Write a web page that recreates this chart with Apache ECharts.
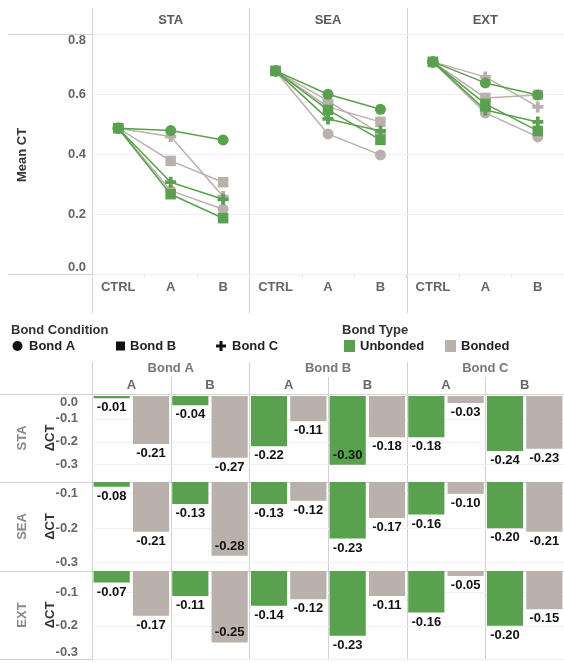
<!DOCTYPE html>
<html><head><meta charset="utf-8">
<script src="https://cdn.jsdelivr.net/npm/echarts@6/dist/echarts.min.js"></script>
<style>html,body{margin:0;padding:0;background:#fff}#c{width:564px;height:663px}</style>
</head><body><div id="c"></div>
<script>
// ---------- data ----------
const panels = ['STA', 'SEA', 'EXT'];
const stages = ['CTRL', 'A', 'B'];
const bondConditions = ['Bond A', 'Bond B', 'Bond C'];
const bondTypes = ['Unbonded', 'Bonded'];
const meanTicks = [0, 0.2, 0.4, 0.6, 0.8];
// Mean CT per panel; rows: BondA-Unb, BondA-Bon, BondB-Unb, BondB-Bon, BondC-Unb, BondC-Bon; cols: CTRL, A, B
const meanSTA = [[0.486, 0.478, 0.447], [0.486, 0.278, 0.216], [0.486, 0.266, 0.186], [0.486, 0.377, 0.306], [0.486, 0.306, 0.249], [0.486, 0.458, 0.258]];
const meanSEA = [[0.677, 0.599, 0.549], [0.677, 0.467, 0.397], [0.677, 0.547, 0.447], [0.677, 0.557, 0.507], [0.677, 0.517, 0.477], [0.677, 0.577, 0.467]];
const meanEXT = [[0.707, 0.637, 0.597], [0.707, 0.537, 0.457], [0.707, 0.567, 0.477], [0.707, 0.587, 0.597], [0.707, 0.547, 0.507], [0.707, 0.657, 0.557]];
// ΔCT per row; order: BondA/A Unb, BondA/A Bon, BondA/B Unb, BondA/B Bon, BondB/A Unb, ... BondC/B Bon
const deltaSTA = [-0.01, -0.21, -0.04, -0.27, -0.22, -0.11, -0.30, -0.18, -0.18, -0.03, -0.24, -0.23];
const deltaSEA = [-0.08, -0.21, -0.13, -0.28, -0.13, -0.12, -0.23, -0.17, -0.16, -0.10, -0.20, -0.21];
const deltaEXT = [-0.07, -0.17, -0.11, -0.25, -0.14, -0.12, -0.23, -0.11, -0.16, -0.05, -0.20, -0.15];
const deltaTicks = [[-0.3, -0.2, -0.1, 0], [-0.3, -0.2, -0.1], [-0.3, -0.2, -0.1]];
const deltaRange = [[-0.376, 0.009], [-0.324, -0.066], [-0.300, -0.035]];

// ---------- layout / style ----------
const FONT = '"Liberation Sans", Arial, Helvetica, sans-serif';
const GREEN = '#59a14f', GRAY = '#bab0ac', LINE = '#d2d2d2', LABEL = '#666', GRID = '#f0f0f0';
const typeColor = [GREEN, GRAY];
const PLUS = 'path://M3.3,0H6.7V3.3H10V6.7H6.7V10H3.3V6.7H0V3.3H3.3Z';
const condSymbol = ['circle', 'rect', PLUS];
const condSize = [11, 10.5, 11];
const L = 92, R = 564, PW = (R - L) / 3;
const TOP_T = 34, TOP_B = 274;
const rowTops = [394, 482, 571], rowBottom = 659;
const rowEdges = rowTops.concat([rowBottom]);

const chart = echarts.init(document.getElementById('c'));
const means = [meanSTA, meanSEA, meanEXT];
const deltas = [deltaSTA, deltaSEA, deltaEXT];

const grid = [], xAxis = [], yAxis = [], series = [];
const txt = { fontFamily: FONT, fontWeight: 'bold', fontSize: 13 };

// top panels
panels.forEach((p, pi) => {
  grid.push({ left: L + pi * PW, top: TOP_T, width: PW, height: TOP_B - TOP_T, outerBoundsMode: 'none' });
  xAxis.push({ type: 'category', gridIndex: pi, data: stages, boundaryGap: true,
    axisLine: { show: false }, axisTick: { show: true, length: 4, lineStyle: { color: '#e6e6e6' } },
    axisLabel: Object.assign({ color: LABEL, margin: 7 }, txt), splitLine: { show: false } });
  yAxis.push({ type: 'value', gridIndex: pi, min: meanTicks[0], max: meanTicks[meanTicks.length - 1], interval: 0.2,
    axisLine: { show: false }, axisTick: { show: false },
    axisLabel: Object.assign({ show: pi === 0, color: LABEL, margin: 6, formatter: v => v.toFixed(1),
      verticalAlignMaxLabel: 'top', verticalAlignMinLabel: 'bottom' }, txt),
    splitLine: { show: true, lineStyle: { color: GRID, width: 1 } } });
  const order = [1, 3, 5, 0, 4, 2];
  order.forEach((k, zi) => {
    const cond = Math.floor(k / 2), type = k % 2;
    series.push({ type: 'line', name: bondConditions[cond] + ' ' + bondTypes[type], xAxisIndex: pi, yAxisIndex: pi,
      data: means[pi][k], symbol: condSymbol[cond], symbolSize: condSize[cond], showSymbol: true,
      lineStyle: { width: 1.5, color: typeColor[type] }, itemStyle: { color: typeColor[type] },
      z: 2 + zi, silent: true, animation: false });
  });
});

// bottom rows
const barCats = [];
bondConditions.forEach(c => stages.slice(1).forEach(s => bondTypes.forEach(t => barCats.push(c + '|' + s + '|' + t))));
panels.forEach((p, r) => {
  const gi = 3 + r;
  const h = rowEdges[r + 1] - rowEdges[r];
  const [mn, mx] = deltaRange[r];
  grid.push({ left: L, top: rowEdges[r], width: R - L, height: h, outerBoundsMode: 'none' });
  xAxis.push({ type: 'category', gridIndex: gi, data: barCats, boundaryGap: true,
    axisLine: { show: false }, axisTick: { show: false }, axisLabel: { show: false }, splitLine: { show: false } });
  const yl = Object.assign({ color: LABEL, margin: 14, formatter: v => v.toFixed(1), customValues: deltaTicks[r] }, txt);
  if (r === 0) yl.verticalAlignMaxLabel = 'top';
  if (r === 2) yl.verticalAlignMinLabel = 'bottom';
  yAxis.push({ type: 'value', gridIndex: gi, min: mn, max: mx,
    axisLine: { show: false }, axisTick: { show: false, customValues: deltaTicks[r] }, axisLabel: yl,
    splitLine: { show: true, lineStyle: { color: GRID, width: 1 } } });
  series.push({ type: 'bar', xAxisIndex: gi, yAxisIndex: gi, barCategoryGap: '8%', clip: true,
    silent: true, animation: false,
    data: deltas[r].map((v, i) => {
      const gap = (v - mn) / (mx - mn) * h;
      return { value: v, itemStyle: { color: typeColor[i % 2] },
        label: { position: gap < 20 ? 'insideBottom' : 'bottom' } };
    }),
    label: Object.assign({ show: true, distance: 3, color: '#111', formatter: d => d.value.toFixed(2) }, txt) });
});

// ---------- frame, headers, legend ----------
const g = [];
const ln = (x1, y1, x2, y2) => g.push({ type: 'line', silent: true,
  shape: { x1: x1, y1: y1, x2: x2, y2: y2 }, style: { stroke: LINE, lineWidth: 1 } });
const tx = (x, y, text, o) => g.push({ type: 'text', silent: true, x: x, y: y, rotation: (o && o.rot) || 0,
  style: { text: text, fill: (o && o.fill) || LABEL, font: 'bold 13px ' + FONT,
    textAlign: (o && o.align) || 'center', textVerticalAlign: 'middle' } });
const cx = v => Math.round(v) + 0.5;

// top frame
for (let i = 0; i < 3; i++) ln(cx(L + i * PW), 8, cx(L + i * PW), 313);
ln(8, TOP_T + 0.5, R, TOP_T + 0.5);
ln(8, TOP_B + 0.5, R, TOP_B + 0.5);
panels.forEach((p, i) => tx(L + PW * (i + 0.5), 20, p, { fill: '#5a5a5a' }));
tx(22, 155, 'Mean CT', { fill: '#333', rot: Math.PI / 2 });

// bottom frame
for (let i = 0; i < 3; i++) {
  ln(cx(L + i * PW), 362, cx(L + i * PW), rowBottom);
  ln(cx(L + (i + 0.5) * PW), 377, cx(L + (i + 0.5) * PW), rowBottom);
  tx(L + PW * (i + 0.5), 368, bondConditions[i], { fill: '#777' });
  stages.slice(1).forEach((s, j) => tx(L + PW * i + PW * (j * 0.5 + 0.25), 385, s, { fill: '#666' }));
}
rowEdges.forEach(y => ln(0, y + 0.5, R, y + 0.5));
panels.forEach((p, r) => {
  const ym = (rowEdges[r] + rowEdges[r + 1]) / 2;
  tx(22, ym, p, { fill: '#888', rot: Math.PI / 2 });
  tx(50, ym, 'ΔCT', { fill: '#333', rot: Math.PI / 2 });
});

// legend
tx(11, 330, 'Bond Condition', { fill: '#333', align: 'left' });
g.push({ type: 'circle', silent: true, shape: { cx: 17.5, cy: 346, r: 5 }, style: { fill: '#111' } });
tx(29, 346, bondConditions[0], { fill: '#222', align: 'left' });
g.push({ type: 'rect', silent: true, shape: { x: 116, y: 341.5, width: 9, height: 9 }, style: { fill: '#111' } });
tx(130, 346, bondConditions[1], { fill: '#222', align: 'left' });
g.push({ type: 'polygon', silent: true, shape: { points: [[219.5,341],[222.5,341],[222.5,344.5],[226,344.5],[226,347.5],[222.5,347.5],[222.5,351],[219.5,351],[219.5,347.5],[216,347.5],[216,344.5],[219.5,344.5]] }, style: { fill: '#111' } });
tx(232, 346, bondConditions[2], { fill: '#222', align: 'left' });
tx(342, 330, 'Bond Type', { fill: '#333', align: 'left' });
g.push({ type: 'rect', silent: true, shape: { x: 344, y: 340, width: 11, height: 12 }, style: { fill: GREEN } });
tx(360, 346, bondTypes[0], { fill: '#222', align: 'left' });
g.push({ type: 'rect', silent: true, shape: { x: 445, y: 340, width: 11, height: 12 }, style: { fill: GRAY } });
tx(461, 346, bondTypes[1], { fill: '#222', align: 'left' });

chart.setOption({ animation: false, backgroundColor: '#fff', grid: grid, xAxis: xAxis, yAxis: yAxis, series: series, graphic: g });
</script>
</body></html>
